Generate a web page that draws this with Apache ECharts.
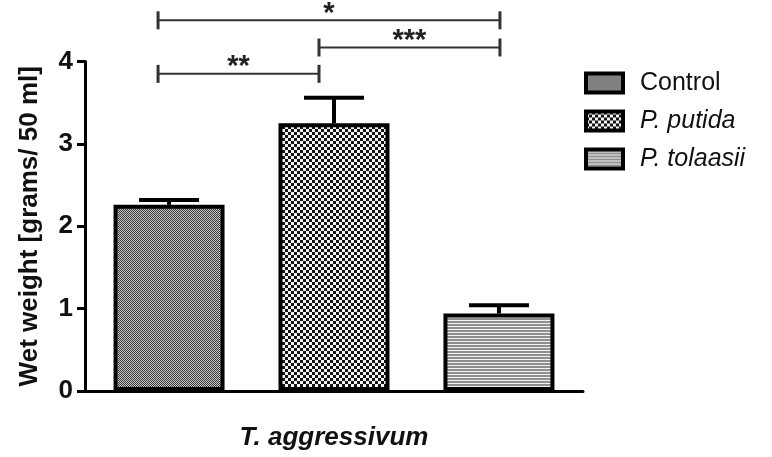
<!DOCTYPE html>
<html>
<head>
<meta charset="utf-8">
<script src="https://cdn.jsdelivr.net/npm/echarts@6/dist/echarts.min.js"></script>
<style>html,body{margin:0;padding:0;background:#fff}#c{width:772px;height:457px}</style>
</head>
<body>
<div id="c"></div>
<script>
// ---- data ----
const categories = ['T. aggressivum'];
const seriesNames = ['Control', 'P. putida', 'P. tolaasii'];
const means = [2.26, 3.25, 0.94];
const errors = [0.06, 0.31, 0.10];
const yMin = 0, yMax = 4, yInterval = 1;
const bracketFrom = [0, 0, 1];
const bracketTo = [2, 1, 2];
const bracketLevel = [4.5, 3.85, 4.17];
const bracketLabels = ['*', '**', '***'];
const yTitle = 'Wet weight [grams/ 50 ml]';

// ---- style ----
const FONT = '"Liberation Sans", Arial, sans-serif';
const BAR_W = 111;
const BAR_GAP = 0.486;
const STEP = BAR_W * (1 + BAR_GAP);
const END_NUDGE = [-11, -15, 1];

function makePattern(w, h, fn) {
  const c = document.createElement('canvas');
  c.width = w; c.height = h;
  const ctx = c.getContext('2d');
  for (let y = 0; y < h; y++) for (let x = 0; x < w; x++) {
    ctx.fillStyle = fn(x, y);
    ctx.fillRect(x, y, 1, 1);
  }
  return { image: c, repeat: 'repeat' };
}
const patterns = [
  makePattern(2, 2, (x, y) => ((x + y) % 2 ? '#c4c4c4' : '#3c3c3c')),
  makePattern(6, 6, (x, y) => ((Math.floor(x / 3) + Math.floor(y / 3)) % 2 ? '#f4f4f4' : '#151515')),
  makePattern(4, 3, (x, y) => (y === 2 ? '#f2f2f2' : '#8e8e8e'))
];

const chart = echarts.init(document.getElementById('c'), null, { renderer: 'canvas' });

const barSeries = seriesNames.map((name, k) => ({
  name: name,
  type: 'bar',
  data: [means[k]],
  barWidth: BAR_W,
  barGap: (BAR_GAP * 100) + '%',
  itemStyle: { color: patterns[k], borderColor: '#000', borderWidth: 4 },
  emphasis: { disabled: true },
  z: 2
}));

const errSeries = {
  type: 'custom',
  z: 5,
  silent: true,
  data: means.map((m, k) => [0, m, errors[k], k]),
  renderItem: function (params, api) {
    const k = api.value(3);
    const base = api.coord([api.value(0), api.value(1)]);
    const top = api.coord([api.value(0), api.value(1) + api.value(2)]);
    const x = base[0] + (k - 1) * STEP;
    const st = { stroke: '#000', lineWidth: 4 };
    return {
      type: 'group',
      children: [
        { type: 'line', shape: { x1: x, y1: base[1], x2: x, y2: top[1] }, style: st },
        { type: 'line', shape: { x1: x - 30, y1: top[1], x2: x + 30, y2: top[1] }, style: st }
      ]
    };
  }
};

const bracketSeries = {
  type: 'custom',
  z: 6,
  silent: true,
  clip: false,
  data: bracketLevel.map((lv, b) => [0, lv, bracketFrom[b], bracketTo[b]]),
  renderItem: function (params, api) {
    const p = api.coord([api.value(0), api.value(1)]);
    const i = api.value(2), j = api.value(3);
    const x1 = p[0] + (i - 1) * STEP + END_NUDGE[i];
    const x2 = p[0] + (j - 1) * STEP + END_NUDGE[j];
    const y = p[1];
    const st = { stroke: '#333', lineWidth: 2 };
    return {
      type: 'group',
      children: [
        { type: 'line', shape: { x1: x1, y1: y, x2: x2, y2: y }, style: st },
        { type: 'line', shape: { x1: x1, y1: y - 9, x2: x1, y2: y + 9 }, style: { stroke: '#333', lineWidth: 3 } },
        { type: 'line', shape: { x1: x2, y1: y - 9, x2: x2, y2: y + 9 }, style: { stroke: '#333', lineWidth: 3 } },
        { type: 'text', style: { text: bracketLabels[params.dataIndex], x: (x1 + x2) / 2, y: y + 8,
          align: 'center', verticalAlign: 'bottom', font: 'bold 29px ' + FONT, fill: '#222' } }
      ]
    };
  }
};

chart.setOption({
  animation: false,
  backgroundColor: '#fff',
  grid: { left: 85, right: 189, top: 61.5, bottom: 66, containLabel: false },
  legend: {
    data: seriesNames,
    orient: 'vertical',
    left: 584, top: 70,
    padding: 0,
    itemWidth: 37, itemHeight: 19,
    itemGap: 12,
    icon: 'rect',
    selectedMode: false,
    itemStyle: { borderColor: '#000', borderWidth: 4 },
    textStyle: { fontFamily: FONT, fontSize: 25, color: '#111', lineHeight: 26, padding: [0, 0, 0, 12],
      rich: { i: { fontFamily: FONT, fontSize: 25, fontStyle: 'italic', color: '#111', lineHeight: 26 } } },
    formatter: function (n) { return n === 'Control' ? n : '{i|' + n + '}'; }
  },
  xAxis: {
    type: 'category',
    data: categories,
    axisLine: { lineStyle: { color: '#000', width: 3 } },
    axisTick: { alignWithLabel: true, length: 9, lineStyle: { color: '#000', width: 3 } },
    axisLabel: { margin: 34, fontFamily: FONT, fontSize: 26, fontWeight: 'bold', fontStyle: 'italic', color: '#111' },
    splitLine: { show: false }
  },
  yAxis: {
    type: 'value',
    min: yMin, max: yMax, interval: yInterval,
    name: yTitle,
    nameLocation: 'middle',
    nameGap: 42,
    nameTextStyle: { fontFamily: FONT, fontSize: 26, fontWeight: 'bold', color: '#111' },
    axisLine: { show: true, lineStyle: { color: '#000', width: 3 } },
    axisTick: { show: true, length: 8, lineStyle: { color: '#000', width: 3 } },
    axisLabel: { margin: 12, fontFamily: FONT, fontSize: 26, fontWeight: 'bold', color: '#111' },
    splitLine: { show: false }
  },
  series: barSeries.concat([errSeries, bracketSeries])
});
</script>
</body>
</html>
